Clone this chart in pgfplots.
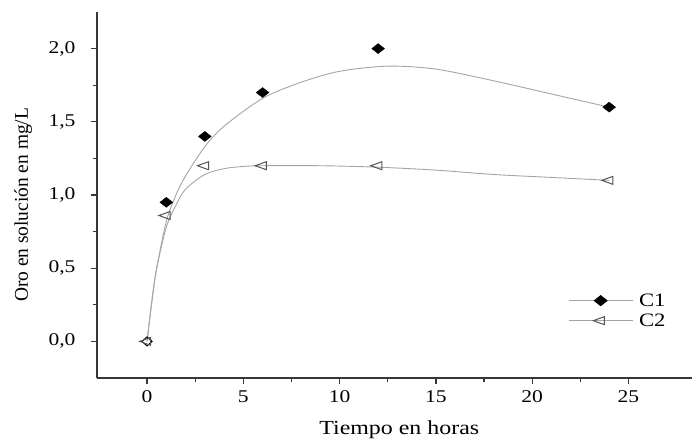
\documentclass[border=0pt]{standalone}
\usepackage{fontspec}
\setmainfont{Liberation Serif}[FakeStretch=1.2]
\newfontfamily\ylabfont{Liberation Serif}
\usepackage{pgfplots}
\pgfplotsset{compat=1.18}
\definecolor{axc}{RGB}{55,55,55}
\definecolor{curvec}{RGB}{165,165,165}
\definecolor{tric}{RGB}{85,85,85}
\begin{document}
\begin{tikzpicture}
\begin{axis}[
  scale only axis, width=595bp, height=366bp,
  xmin=-2.6, xmax=28.3, ymin=-0.25, ymax=2.25,
  axis x line*=bottom, axis y line*=left,
  axis line style={axc, line width=1.5bp},
  xtick={0,5,...,25}, ytick={0,0.5,...,2},
  minor x tick num=1, minor y tick num=1,
  tick align=outside, major tick length=6bp, minor tick length=4bp,
  every tick/.style={axc, line width=1.2bp},
  /pgf/number format/assume math mode=true,
  yticklabel style={/pgf/number format/.cd, fixed, fixed zerofill, precision=1, use comma, /tikz/.cd, xshift=-12bp},
  xticklabel style={yshift=-3bp},
  ticklabel style={font=\fontsize{18}{20}\selectfont},
  every axis x label/.style={at={(axis description cs:0.508,0)}, anchor=center, yshift=-52bp, font=\fontsize{20}{22}\selectfont},
  every axis y label/.style={at={(axis description cs:-0.124,0.473)}, anchor=center, rotate=90, font=\ylabfont\fontsize{19.5}{21}\selectfont},
  xlabel={Tiempo en horas}, ylabel={Oro en solución en mg/L},
  legend style={draw=none, fill=none, inner sep=0pt, at={(rel axis cs:0.7916,0.184)}, anchor=west,
    font=\fontsize{19}{21}\selectfont, row sep=2bp, column sep=4bp},
  legend cell align=left,
  legend image code/.code={\draw[#1, mark repeat=2, mark phase=2] plot coordinates {(0bp,0bp) (32bp,0bp) (64bp,0bp)};},
  clip=false,
]
% fitted curves
\addplot[curvec, line width=0.9bp, smooth, forget plot] coordinates {
  (0,0) (0.25,0.28) (0.5,0.5) (1,0.82) (1.5,1.0) (2,1.13) (3,1.33) (4,1.47) (6,1.66)
  (8,1.77) (10,1.845) (12.5,1.88) (15,1.86) (18,1.78) (21,1.69) (24,1.6)};
\addplot[curvec, line width=0.9bp, smooth, forget plot] coordinates {
  (0,0) (0.25,0.27) (0.5,0.5) (1,0.78) (1.5,0.93) (2,1.04) (3,1.14) (4,1.18) (5,1.195)
  (6,1.2) (9,1.2) (12,1.19) (15,1.17) (18,1.14) (21,1.12) (24,1.1)};
% data points
\addplot[only marks, mark=diamond*, mark size=5bp, mark options={xscale=1.7, draw=black, fill=black}, forget plot] coordinates {
  (1,0.95) (3,1.4) (6,1.7) (12,2.0) (24,1.6)};
\addplot[only marks, mark=diamond, mark size=4.5bp, mark options={xscale=1.5, draw=black, line width=1bp}, forget plot] coordinates {(0,0)};
\addplot[only marks, mark=triangle, mark size=4.6bp, mark options={xscale=1.6, rotate=90, draw=tric, line width=1bp}, forget plot] coordinates {
  (0,0) (1,0.86) (3,1.2) (6,1.2) (12,1.2) (24,1.1)};
\addlegendimage{curvec, line width=0.9bp, mark=diamond*, mark size=5bp, mark options={xscale=1.7, draw=black, fill=black}}
\addlegendentry{C1}
\addlegendimage{curvec, line width=0.9bp, mark=triangle, mark size=4.6bp, mark options={xscale=1.6, rotate=90, draw=tric, line width=1bp}}
\addlegendentry{C2}
\end{axis}
\pgfresetboundingbox
\useasboundingbox ([shift={(-97bp,-62bp)}]current axis.south west) rectangle ([shift={(4bp,12bp)}]current axis.north east);
\end{tikzpicture}
\end{document}
